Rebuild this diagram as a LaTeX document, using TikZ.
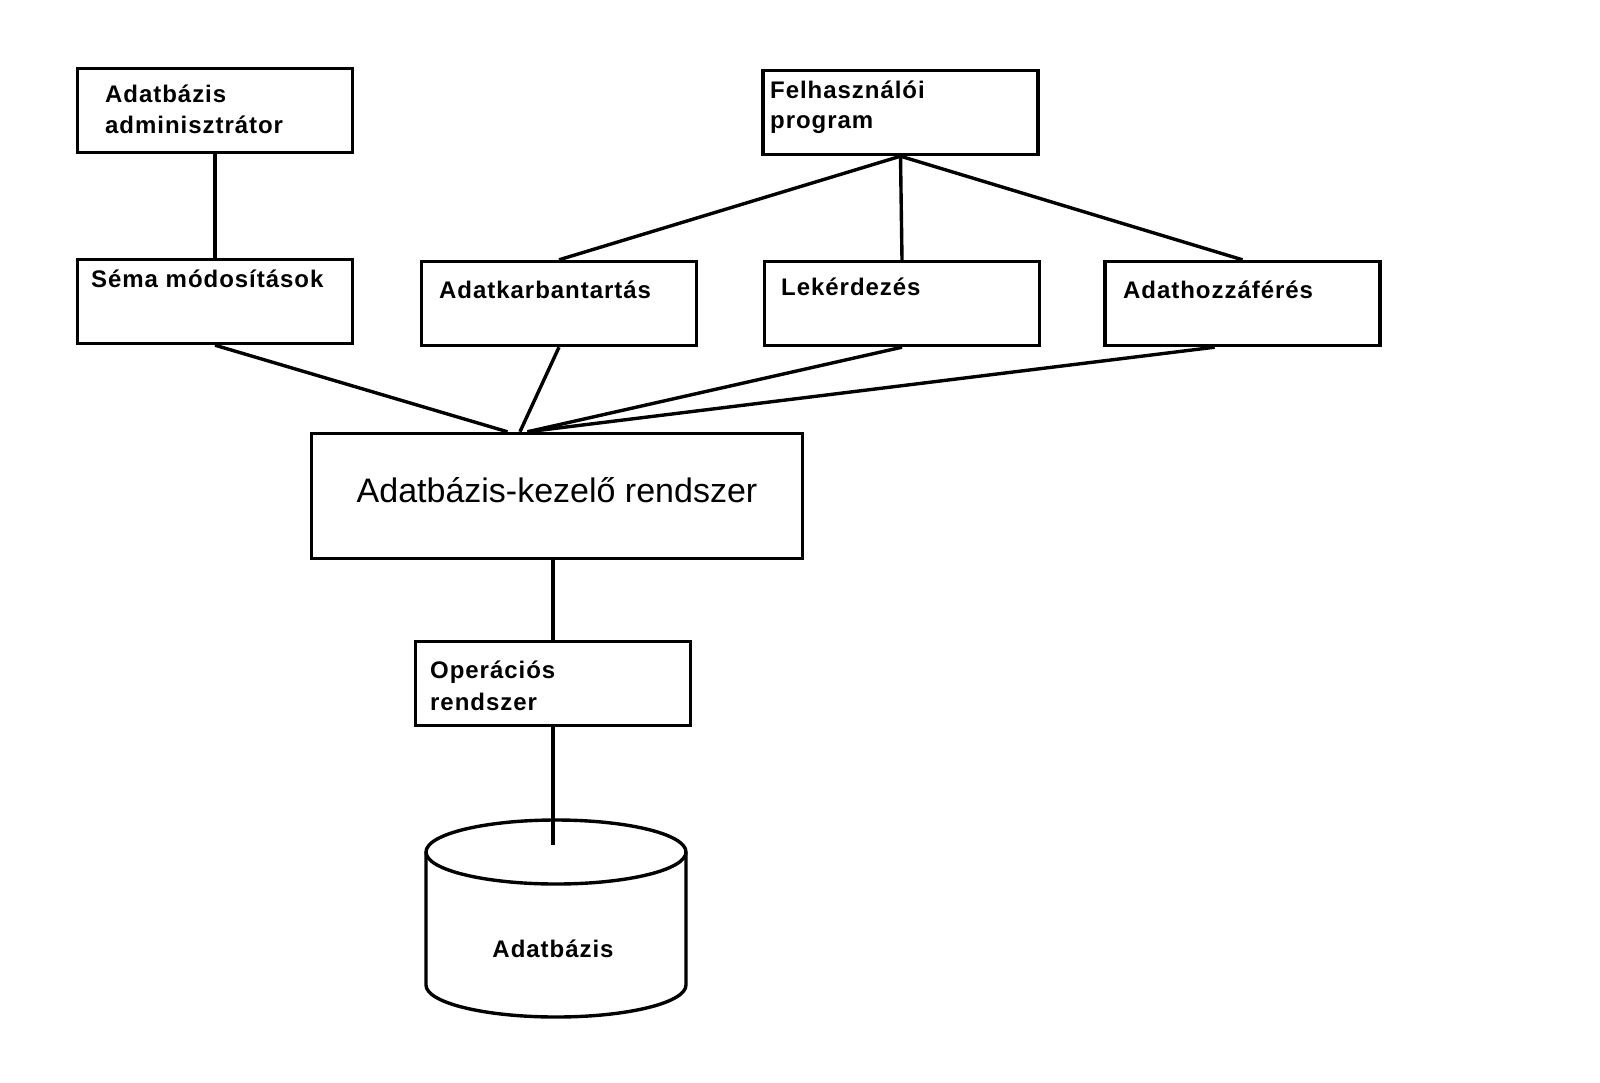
\documentclass[tikz,border=0pt]{standalone}
\usepackage{fontspec}
\setmainfont{Liberation Sans}
\newfontfamily\lblfont{Liberation Sans}[LetterSpace=4]
\usetikzlibrary{calc}
\begin{document}
\begin{tikzpicture}[x=1pt,y=-1pt,
  box/.style={draw, line width=3.4pt, inner sep=0pt, minimum width=275pt, minimum height=84pt},
  lbl/.style={font=\lblfont\bfseries\fontsize{24}{28}\selectfont, inner sep=0pt, anchor=base west},
  big/.style={font=\fontsize{34}{40}\selectfont, inner sep=0pt, anchor=base},
  conn/.style={line width=3.4pt}]
\useasboundingbox (0,0) rectangle (1600,1082);
\fill[white] (0,0) rectangle (1600,1082);
% boxes
\node[box] (admin) at (215,110.5) {};
\node[box] (sema) at (215,301.5) {};
\node[box] (akt) at (559,303.5) {};
\node[box] (lek) at (902,303.5) {};
\node[box] (ahf) at (1242.5,303.5) {};
\node[box] (felh) at (900.5,112.5) {};
\node[box, minimum width=491pt, minimum height=125pt] (dbms) at (557,496) {};
\node[box] (os) at (553,683.5) {};
% labels
\node[lbl] (admin1) at (105,102) {Adatbázis};
\node[lbl] (admin2) at (105,133) {adminisztrátor};
\node[lbl] (sematxt) at (91,287) {Séma módosítások};
\node[lbl] (akttxt) at (439,298) {Adatkarbantartás};
\node[lbl] (lektxt) at (781,295) {Lekérdezés};
\node[lbl] (ahftxt) at (1123,298) {Adathozzáférés};
\node[lbl] (felh1) at (770,98) {Felhasználói};
\node[lbl] (felh2) at (770,128) {program};
\node[big] (dbmstxt) at (557,502) {Adatbázis-kezelő rendszer};
\node[lbl] (os1) at (430,678) {Operációs};
\node[lbl] (os2) at (430,710) {rendszer};
% cylinder
\draw[line width=3.4pt] (556,852) ellipse [x radius=130pt, y radius=32pt];
\draw[line width=3.4pt] (426,852) -- (426,985) arc[start angle=180, end angle=360, x radius=130pt, y radius=32pt] -- (686,852);
\node[lbl, anchor=base] (db) at (553,957) {Adatbázis};
\coordinate (dbtop) at (553,845);
% connectors
\draw[conn] (admin.south) -- (sema.north);
\draw[conn] (felh.south) -- (akt.north);
\draw[conn] (felh.south) -- (lek.north);
\draw[conn] (felh.south) -- (ahf.north);
\draw[conn] (sema.south) -- ($(dbms.north west)!0.40!(dbms.north east)$);
\draw[conn] (akt.south) -- ($(dbms.north west)!0.425!(dbms.north east)$);
\draw[conn] (lek.south) -- ($(dbms.north west)!0.44!(dbms.north east)$);
\draw[conn] ($(ahf.south west)!0.4!(ahf.south east)$) -- ($(dbms.north west)!0.44!(dbms.north east)$);
\draw[conn] (os.north |- dbms.south) -- (os.north);
\draw[conn] (os.south) -- (dbtop);
\end{tikzpicture}
\end{document}
